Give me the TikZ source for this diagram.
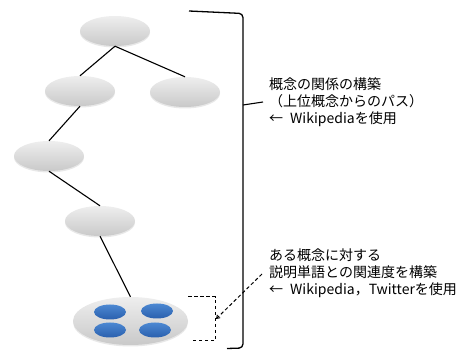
\documentclass[tikz,border=0pt]{standalone}
\usepackage{fontspec}
\newfontfamily\jpfont{Noto Sans CJK JP}
\usetikzlibrary{shapes.geometric,shadows,arrows.meta}

\definecolor{conceptTop}{HTML}{EEEEEE}
\definecolor{conceptBottom}{HTML}{C9C9C9}
\definecolor{wordTop}{HTML}{4C88D2}
\definecolor{wordBottom}{HTML}{2A60AE}

\tikzset{
  concept/.style={ellipse, inner sep=0pt, minimum width=70pt, minimum height=30pt,
    top color=conceptTop, bottom color=conceptBottom, draw=none,
    drop shadow={opacity=0.18, shadow xshift=0pt, shadow yshift=-1.5pt}},
  cluster/.style={concept, minimum width=115pt, minimum height=48pt},
  word/.style={ellipse, inner sep=0pt, minimum width=32pt, minimum height=15pt,
    top color=wordTop, bottom color=wordBottom, draw=none},
  link/.style={line width=1.1pt, black},
  brace/.style={line width=1.3pt, black, rounded corners=4pt},
  dashline/.style={line width=1pt, black, dash pattern=on 3.5pt off 2.5pt},
  % multi-line labels: the base anchor sits on the last line's baseline
  label/.style={anchor=base west, inner sep=0pt, align=left,
    font=\jpfont\fontsize{14}{17}\selectfont}
}
\newcommand\arrowgap{←\hspace{7pt}}

\begin{document}
\begin{tikzpicture}[x=1pt,y=-1pt]
\useasboundingbox (0,0) rectangle (459,350);

% concept hierarchy
\node[concept] (root) at (115,31) {};
\node[concept] (a)    at (80,91)  {};
\node[concept] (b)    at (185,92) {};
\node[concept] (c)    at (49,156) {};
\node[concept] (d)    at (100,221) {};
\node[cluster] (leaf) at (130.5,321) {};

% description words inside the leaf concept
\node[word] (w1) at (110,312) {};
\node[word] (w2) at (157,311) {};
\node[word] (w3) at (110,330) {};
\node[word] (w4) at (155,330) {};

\draw[link] (root.south) -- (a.north);
\draw[link] (root.south) -- (b.north);
\draw[link] (a.south) -- (c.north);
\draw[link] (c.south) -- (d.north);
\draw[link] (d.south) -- (leaf.north);

% large bracket around the whole hierarchy
\coordinate (bt) at (243,105);
\coordinate (bl) at (263,102);
\draw[brace] (189,11) -- (243,13.5) -- (243,348) -- (227,348.5);
\draw[line width=1.1pt] (bt) -- (bl);

% dashed bracket around the word cluster
\coordinate (dm) at (216,319);
\coordinate (dl) at (262,274);
\draw[dashline] (188,297) -- (215,297) -- (215,341) -- (191,341);
\draw[dashline, -{Straight Barb[length=3pt,width=4pt]}] (dl) -- (dm);

% annotations
\node[label] (t1) at (269,124) {概念の関係の構築\\（上位概念からのパス）\\\arrowgap Wikipediaを使用};
\node[label] (t2) at (269,295) {ある概念に対する\\説明単語との関連度を構築\\\arrowgap Wikipedia，Twitterを使用};
\end{tikzpicture}
\end{document}
